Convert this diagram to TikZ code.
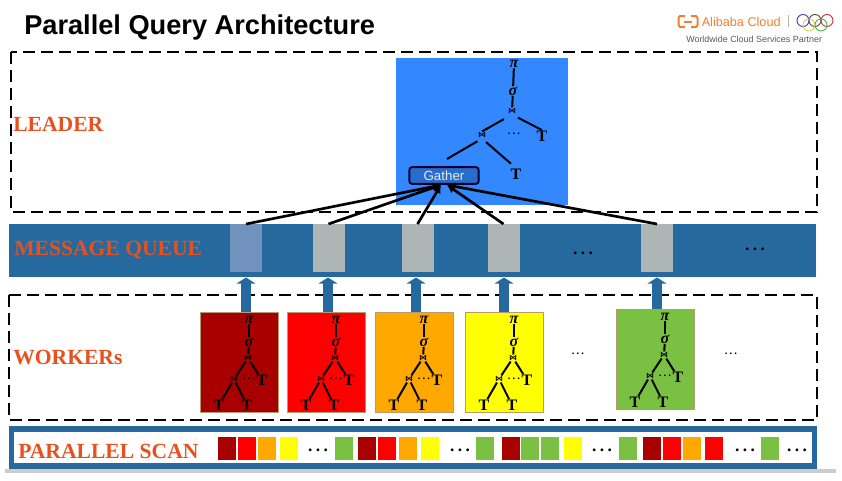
\documentclass[tikz,border=0pt]{standalone}
\usepackage{fontspec}
\setmainfont{Liberation Serif}
\setsansfont{Liberation Sans}
\newfontfamily\symfont{DejaVu Sans}
\usetikzlibrary{arrows.meta}
\definecolor{lblorange}{HTML}{E8501E}
\definecolor{band}{HTML}{26699F}
\definecolor{cellgray}{HTML}{ADB5B5}
\definecolor{cellblue}{HTML}{7092BC}
\definecolor{leaderblue}{HTML}{3388FF}
\definecolor{cdred}{HTML}{A80000}
\definecolor{cred}{HTML}{FF0000}
\definecolor{corange}{HTML}{FFA800}
\definecolor{cyellow}{HTML}{FFFF00}
\definecolor{cgreen}{HTML}{7AC143}
\definecolor{tanedge}{HTML}{B89A70}
\definecolor{logoorange}{HTML}{F08030}
\newcommand{\tdots}{.\kern0.2em.\kern0.2em.}
\tikzset{
  dashbox/.style={draw=black,line width=1.7pt,dash pattern=on 9pt off 4.5pt},
  seclabel/.style={anchor=west,inner sep=0pt,text=lblorange,font=\fontsize{16.2pt}{16.2pt}\selectfont\bfseries},
  tn/.style={inner sep=0.3pt,font=\fontsize{12pt}{12pt}\selectfont\bfseries\itshape},
  tt/.style={inner sep=0.3pt,font=\fontsize{12pt}{12pt}\selectfont\bfseries},
  jn/.style={inner sep=0.3pt,font=\fontsize{6pt}{6pt}\selectfont\symfont\bfseries},
  tl/.style={line width=1.5pt,black},
  feed/.style={line width=2pt,black,-{Latex[length=6pt,width=6.5pt]}},
  pipe/.style={line width=7.5pt,band,-{Triangle[length=4.5pt,width=14pt]}},
  cellq/.style={inner sep=0pt,minimum width=24pt,minimum height=36pt,fill=cellgray,anchor=north},
  sq/.style={inner sep=0pt,minimum width=13.5pt,minimum height=17pt,anchor=west},
  wbox/.style={inner sep=0pt,anchor=north west,minimum width=58.5pt,minimum height=75pt,draw=tanedge,line width=0.6pt},
  dotsn/.style={inner sep=0pt,font=\fontsize{13pt}{13pt}\selectfont\bfseries},
  dotss/.style={inner sep=0pt,font=\fontsize{8pt}{8pt}\selectfont\bfseries},
  ring/.style={line width=0.7pt}
}
\newcommand{\wtree}[4]{%
  \begin{scope}[shift={(#2,#3)}]
    \node[wbox,fill=#4] (#1box) at (0,0) {};
    \node[tn] (#1pi) at (49,8) {π};
    \node[tn] (#1si) at (49,30) {σ};
    \node[jn] (#1ja) at (48,46) {⋈};
    \node[jn] (#1jb) at (34,67) {⋈};
    \node[tt] (#1tr) at (62,68) {T};
    \node[dotss] (#1dt) at (49,67) {\tdots};
    \node[tt] (#1ta) at (19,93) {T};
    \node[tt] (#1tb) at (47,93) {T};
    \draw[tl] (#1pi) -- (#1si);
    \draw[tl] (#1si) -- (#1ja);
    \draw[tl] (#1ja) -- (#1jb);
    \draw[tl] (#1ja) -- (#1tr);
    \draw[tl] (#1jb) -- (#1ta);
    \draw[tl] (#1jb) -- (#1tb);
  \end{scope}}
\newcommand{\sqr}[3]{\node[sq,fill=#3] (#1) at (#2,448.5) {};}
\begin{document}
\begin{tikzpicture}[x=0.75pt,y=-0.75pt]
\useasboundingbox (0,0) rectangle (842,480);
% title
\node[anchor=west,inner sep=0pt,font=\fontsize{20.4pt}{20.4pt}\selectfont\sffamily\bfseries] (title) at (24,27) {Parallel Query Architecture};
% logo
\draw[logoorange,line width=1.5pt] (685,16) -- (680,16) -- (678.5,18) -- (678.5,25) -- (680,27) -- (685,27);
\draw[logoorange,line width=1.5pt] (691,16) -- (696,16) -- (697.5,18) -- (697.5,25) -- (696,27) -- (691,27);
\draw[logoorange,line width=1.5pt] (684,21.5) -- (692,21.5);
\node[anchor=west,inner sep=0pt,text=logoorange,font=\fontsize{9.5pt}{9.5pt}\selectfont\sffamily] (ali) at (701.5,22) {Alibaba Cloud};
\draw[gray!60,line width=0.5pt] (788,15) -- (788,27);
\draw[ring,blue!50!gray] (803,20.5) circle (6);
\draw[ring,black!70] (815,20.5) circle (6);
\draw[ring,red!60!gray] (827,20.5) circle (6);
\draw[ring,yellow!70!gray] (809,25) circle (6);
\draw[ring,green!40!gray] (821,25) circle (6);
\node[anchor=west,inner sep=0pt,text=black!65,font=\fontsize{6.7pt}{6.7pt}\selectfont\sffamily] (wcs) at (686,39) {Worldwide Cloud Services Partner};
% leader
\node[anchor=north west,inner sep=0pt,minimum width=129pt,minimum height=110.25pt,fill=leaderblue] (lbox) at (396,58) {};
\draw[dashbox] (11,52) rectangle (817,212);
\node[seclabel] (lleader) at (13,124) {LEADER};
\node[tn] (pi) at (514,64) {π};
\node[tn] (si) at (513,91) {σ};
\node[jn] (ja) at (512,111) {⋈};
\node[jn] (jb) at (482,135) {⋈};
\node[tt] (tr) at (542,136) {T};
\node[dotss] (dt) at (514,134) {\tdots};
\node[tt] (tb) at (516,174) {T};
\coordinate (tc) at (447,159);
\draw[tl] (pi) -- (si);
\draw[tl] (si) -- (ja);
\draw[tl,shorten <=7pt] (ja.south) -- (jb.north);
\draw[tl,shorten <=5pt] (ja.south) -- (tr.north);
\draw[tl,shorten <=4pt] (jb.south) -- (tc);
\draw[tl,shorten <=4pt,shorten >=5pt] (jb.south) -- (tb.north);
\node[draw=black!80!blue,line width=1.4pt,rounded corners=2pt,fill=leaderblue!80!black,text=white!82!gray,inner sep=0pt,minimum width=52pt,minimum height=12.5pt,font=\fontsize{10pt}{10pt}\selectfont\sffamily] (gather) at (444,175.5) {Gather};
% queue
\node[anchor=north west,inner sep=0pt,minimum width=605.25pt,minimum height=39.75pt,fill=band] (queue) at (9,224) {};
\node[seclabel] (lqueue) at (14,250) {MESSAGE QUEUE};
\node[cellq,fill=cellblue] (c1) at (246,224) {};
\node[cellq] (c2) at (328.5,224) {};
\node[cellq] (c3) at (417.5,224) {};
\node[cellq] (c4) at (503.5,224) {};
\node[cellq] (c5) at (657,224) {};
\node[dotsn] (qd1) at (583,253) {\tdots};
\node[dotsn] (qd2) at (755,249) {\tdots};
% feeds
\coordinate (ga) at (441,185);
\coordinate (gb) at (447,185);
\draw[feed] (c1.north) -- (ga);
\draw[feed] (c2.north) -- (ga);
\draw[feed] (c3.north) -- (ga);
\draw[feed] (c4.north) -- (gb);
\draw[feed] (c5.north) -- (gb);
% workers frame
\draw[dashbox] (9,295) rectangle (817,420);
\node[seclabel] (lworkers) at (13,358) {WORKERs};
\wtree{wa}{200}{312}{cdred}
\wtree{wb}{287}{312}{cred}
\wtree{wc}{375}{312}{corange}
\wtree{wd}{465}{312}{cyellow}
\wtree{we}{616}{309}{cgreen}
\node[dotss] (wd1) at (578,354) {\tdots};
\node[dotss] (wd2) at (731,354) {\tdots};
% pipes
\coordinate (pa) at (246,277.5);
\coordinate (pb) at (328,277.5);
\coordinate (pc) at (416,277.5);
\coordinate (pd) at (504,277.5);
\coordinate (pe) at (657,277.5);
\draw[pipe] (pa |- wabox.north) -- (pa);
\draw[pipe] (pb |- wbbox.north) -- (pb);
\draw[pipe] (pc |- wcbox.north) -- (pc);
\draw[pipe] (pd |- wdbox.north) -- (pd);
\draw[pipe] (pe |- webox.north) -- (pe);
% scan
\draw[black!20,line width=2.4pt] (5,471) -- (836,471);
\node[anchor=north west,draw=band,line width=4pt,fill=white,inner sep=0pt,outer sep=0pt,minimum width=602pt,minimum height=27.75pt] (scan) at (11.7,429) {};
\node[seclabel] (lscan) at (18,451.5) {PARALLEL SCAN};
\sqr{s1}{218}{cdred}\sqr{s2}{238}{cred}\sqr{s3}{258}{corange}\sqr{s4}{280}{cyellow}
\node[dotsn] (d1) at (318,450) {\tdots};
\sqr{s5}{335}{cgreen}
\sqr{s6}{358}{cdred}\sqr{s7}{378}{cred}\sqr{s8}{399}{corange}\sqr{s9}{421}{cyellow}
\node[dotsn] (d2) at (460,450) {\tdots};
\sqr{s10}{476}{cgreen}
\sqr{s11}{502}{cdred}\sqr{s12}{521}{cgreen}\sqr{s13}{541}{cgreen}\sqr{s14}{564}{cyellow}
\node[dotsn] (d3) at (602,450) {\tdots};
\sqr{s15}{619}{cgreen}
\sqr{s16}{643}{cdred}\sqr{s17}{663}{cred}\sqr{s18}{683}{corange}\sqr{s19}{705}{cred}
\node[dotsn] (d4) at (745,450) {\tdots};
\sqr{s20}{761}{cgreen}
\node[dotsn] (d5) at (797,450) {\tdots};
\end{tikzpicture}
\end{document}
